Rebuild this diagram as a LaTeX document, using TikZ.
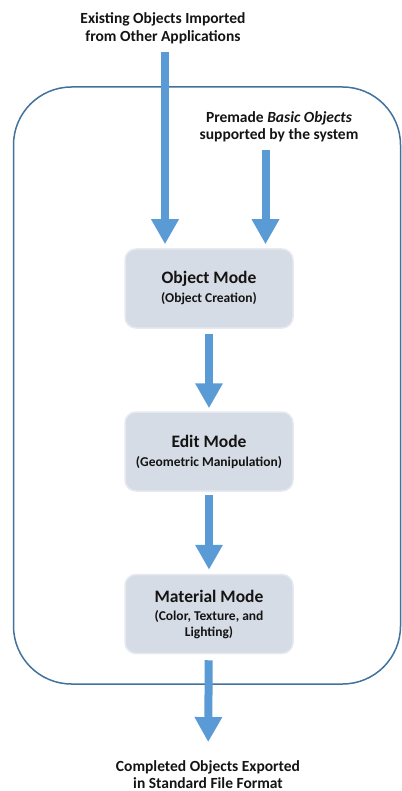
\documentclass[tikz,border=0pt]{standalone}
\usepackage{fontspec}
\setmainfont{Carlito}
\usetikzlibrary{arrows.meta,calc}
\definecolor{arrowblue}{HTML}{5B9BD5}
\definecolor{frameblue}{HTML}{41719C}
\definecolor{boxfill}{HTML}{D6DCE5}
\definecolor{boxline}{HTML}{E6E9EF}
\definecolor{txt}{HTML}{141414}
\begin{document}
\begin{tikzpicture}[x=1pt,y=-1pt,
  bigarrow/.style={draw=arrowblue, line width=8pt, -{Triangle[width=26pt,length=25pt]}},
  modebox/.style={draw=boxline, line width=1.5pt, fill=boxfill, rounded corners=11pt,
    minimum width=168pt, minimum height=79pt, align=center, text=txt, inner xsep=4pt,
    font=\bfseries\fontsize{13.5}{16}\selectfont},
  lbl/.style={align=center, inner sep=0pt, text=txt, font=\bfseries\fontsize{15.5}{17.5}\selectfont}]
\useasboundingbox (0,0) rectangle (401,791);
\draw[frameblue, line width=1.5pt, rounded corners=58pt] (13.5,87) rectangle (400.5,684);

\node[lbl] (imp) at (163,28.5) {Existing Objects Imported\\from Other Applications};
\node[lbl] (pre) at (279,127) {Premade \textit{Basic Objects}\\supported by the system};
\node[lbl] (done) at (208,774.5) {Completed Objects Exported\\in Standard File Format};

\node[modebox] (obj) at (209,288.5) {{\fontsize{17.5}{19}\selectfont Object Mode}\\[3pt](Object Creation)};
\node[modebox] (edit) at (209,451.5) {{\fontsize{17.5}{19}\selectfont Edit Mode}\\[3pt](Geometric Manipulation)};
\node[modebox] (mat) at (209,614) {{\fontsize{17.5}{19}\selectfont Material Mode}\\[2pt](Color, Texture, and\\Lighting)};

\draw[bigarrow] ($(imp.south)+(2,8)$) -- ($(obj.north)+(-44,-4)$);
\draw[bigarrow] ($(pre.south)+(-13.5,7.5)$) -- ($(obj.north)+(56.5,-4)$);
\draw[bigarrow, shorten <=5pt, shorten >=3pt] (obj) -- (edit);
\draw[bigarrow, shorten <=3pt, shorten >=4pt] (edit) -- (mat);
\draw[bigarrow, shorten <=6pt, shorten >=18pt] (mat) -- (done);
\end{tikzpicture}
\end{document}
